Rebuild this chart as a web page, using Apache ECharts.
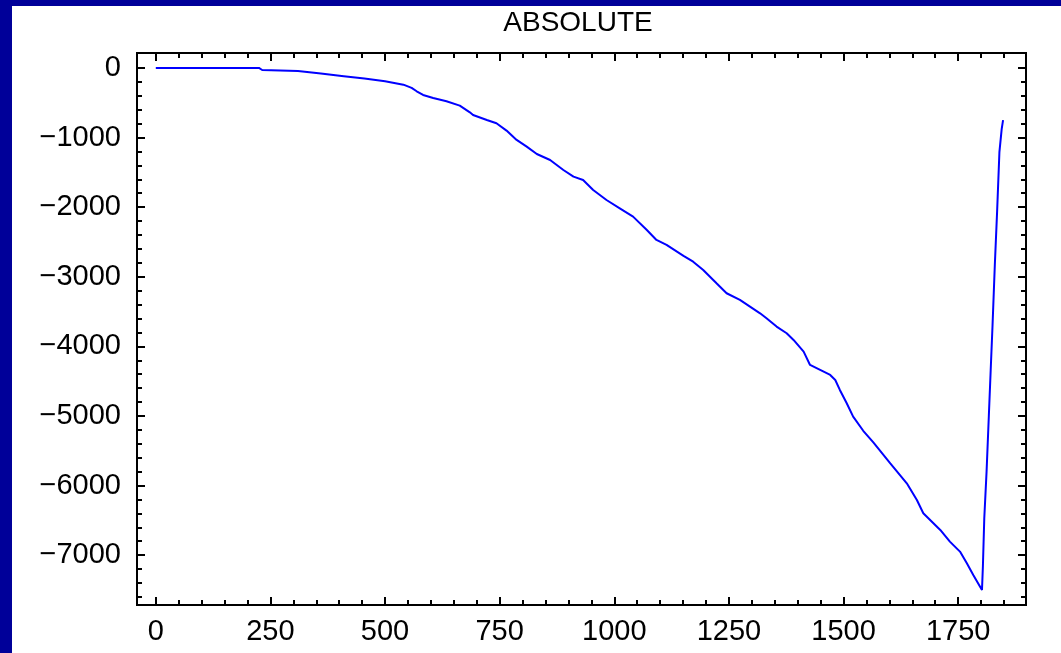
<!DOCTYPE html>
<html>
<head>
<meta charset="utf-8">
<script src="https://cdn.jsdelivr.net/npm/echarts@6/dist/echarts.min.js"></script>
<style>
    html, body { margin: 0; padding: 0; }
    body { width: 1061px; height: 653px; background: #000099; position: relative; overflow: hidden; }
    #chart { position: absolute; left: 12px; top: 6px; width: 1049px; height: 647px; background: #ffffff; }
</style>
</head>
<body>
<div id="chart"></div>
<script>
// curve
const xValues = [0, 225, 232, 310, 360, 410, 455, 500, 540, 558, 569, 583, 605, 634, 663, 685, 692, 722, 743, 765,
    787, 809, 831, 860, 889, 911, 932, 954, 983, 1012, 1041, 1071, 1092, 1114, 1151, 1172, 1194, 1223, 1245, 1274,
    1296, 1318, 1332, 1354, 1376, 1391, 1413, 1427, 1449, 1471, 1482, 1492, 1507, 1521, 1543, 1565, 1602, 1638, 1660,
    1674, 1711, 1732, 1754, 1769, 1783, 1802, 1804, 1807, 1812, 1817, 1821, 1825, 1830, 1835, 1840, 1845, 1848];
const yValues = [0, 0, -29, -45, -80, -118, -153, -190, -240, -287, -335, -388, -431, -479, -541, -637, -675, -747, -795, -900,
    -1034, -1130, -1236, -1322, -1466, -1561, -1609, -1753, -1897, -2016, -2136, -2328, -2471, -2543, -2699, -2783, -2902, -3094, -3237, -3333,
    -3429, -3525, -3597, -3716, -3812, -3908, -4076, -4267, -4339, -4411, -4483, -4626, -4818, -5010, -5213, -5380, -5680, -5967, -6207,
    -6398, -6638, -6805, -6949, -7117, -7284, -7500, -7160, -6470, -5800, -4990, -4340, -3700, -2830, -2060, -1210, -875, -750];

// ticks
const xMajor = [0, 250, 500, 750, 1000, 1250, 1500, 1750];
const xMinor = [0, 50, 100, 150, 200, 250, 300, 350, 400, 450, 500, 550, 600, 650, 700, 750, 800, 850, 900, 950,
    1000, 1050, 1100, 1150, 1200, 1250, 1300, 1350, 1400, 1450, 1500, 1550, 1600, 1650, 1700, 1750, 1800, 1850];
const yMajor = [0, -1000, -2000, -3000, -4000, -5000, -6000, -7000];
const yMinor = [0, -200, -400, -600, -800, -1000, -1200, -1400, -1600, -1800, -2000, -2200, -2400, -2600, -2800,
    -3000, -3200, -3400, -3600, -3800, -4000, -4200, -4400, -4600, -4800, -5000, -5200, -5400, -5600, -5800,
    -6000, -6200, -6400, -6600, -6800, -7000, -7200, -7400, -7600];

const xMin = -41, xMax = 1898;
const yMin = -7716, yMax = 215;

const font = "'Liberation Sans', Arial, sans-serif";
const tickStyle = { color: '#000', width: 2 };

const gridBox = { left: 125, top: 47, width: 889, height: 552 };
const grids = [0, 1, 2, 3].map(i => Object.assign({}, gridBox, i === 0 ? {
    show: true,
    borderColor: '#000',
    borderWidth: 2
} : {}));

const axisBase = (dim, gridIndex, position, ticks, len, labels) => ({
    type: 'value',
    gridIndex: gridIndex,
    position: position,
    min: dim === 'x' ? xMin : yMin,
    max: dim === 'x' ? xMax : yMax,
    axisLine: { show: false, onZero: false },
    splitLine: { show: false },
    axisTick: {
        show: true,
        inside: true,
        length: len,
        customValues: ticks,
        lineStyle: tickStyle
    },
    axisLabel: labels ? {
        show: true,
        customValues: labels,
        fontFamily: font,
        fontSize: 29,
        color: '#000',
        margin: dim === 'x' ? 12 : 16,
        formatter: v => String(v).replace('-', '\u2212')
    } : { show: false }
});

const data = xValues.map((x, i) => [x, yValues[i]]);

const chart = echarts.init(document.getElementById('chart'));
chart.setOption({
    animation: false,
    backgroundColor: '#ffffff',
    graphic: [{
        type: 'text',
        x: 566,
        y: 17,
        style: {
            text: 'ABSOLUTE',
            fontFamily: font,
            fontSize: 28,
            fill: '#000',
            textAlign: 'center',
            textVerticalAlign: 'middle'
        }
    }],
    grid: grids,
    xAxis: [
        axisBase('x', 0, 'bottom', xMajor, 8, xMajor),
        axisBase('x', 1, 'bottom', xMinor, 5),
        axisBase('x', 2, 'top', xMajor, 8),
        axisBase('x', 3, 'top', xMinor, 5)
    ],
    yAxis: [
        axisBase('y', 0, 'left', yMajor, 8, yMajor),
        axisBase('y', 1, 'left', yMinor, 5),
        axisBase('y', 2, 'right', yMajor, 8),
        axisBase('y', 3, 'right', yMinor, 5)
    ],
    series: [{
        type: 'line',
        xAxisIndex: 0,
        yAxisIndex: 0,
        data: data,
        showSymbol: false,
        lineStyle: { color: '#0000ff', width: 2 }
    }]
});
</script>
</body>
</html>
